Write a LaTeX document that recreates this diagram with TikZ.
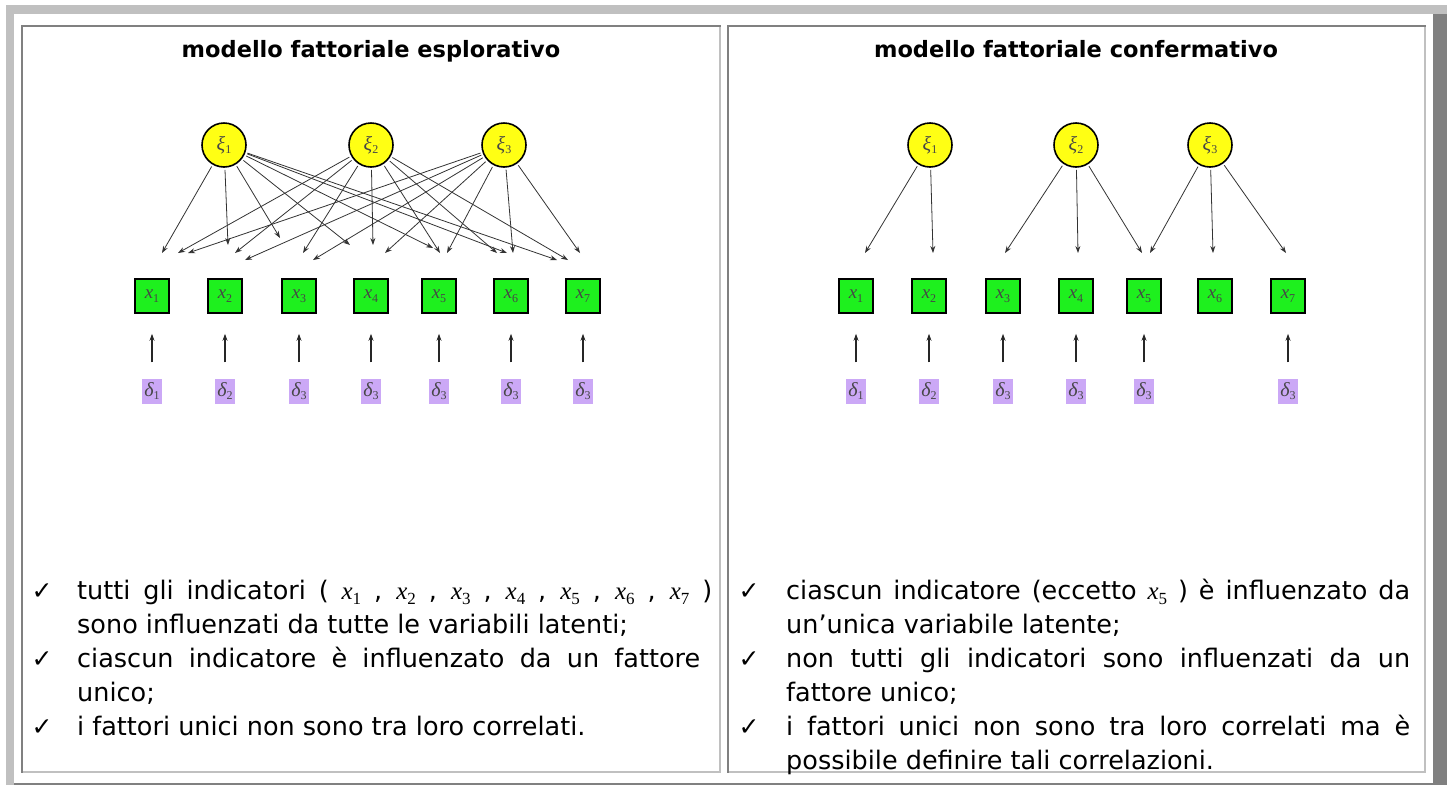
\documentclass[tikz,border=0pt]{standalone}
\usepackage{fontspec}
\setmainfont{DejaVu Sans}
\newfontfamily\tms{Liberation Serif}
\newfontfamily\chkfont{DejaVu Sans}
\usetikzlibrary{arrows.meta}
\definecolor{lgray}{RGB}{192,192,192}
\definecolor{dgray}{RGB}{128,128,128}
\definecolor{yel}{RGB}{255,255,20}
\definecolor{grn}{RGB}{30,240,30}
\definecolor{lav}{RGB}{203,168,246}
\definecolor{lblc}{RGB}{70,70,70}
\newcommand\myvar[4]{{\tms\fontsize{#3}{#3}\selectfont\itshape #1}{\tms\fontsize{#4}{#4}\selectfont\raisebox{-0.3em}{#2}}}
\newcommand\xsb[1]{\myvar{x}{#1}{25}{17}}
\newcommand\bodyfont{\fontsize{25.5}{34}\selectfont}
\begin{document}
\begin{tikzpicture}[x=1pt,y=-1pt,
  lat/.style={circle,draw=black,line width=1.6pt,fill=yel,minimum size=44pt,inner sep=0pt,text=lblc},
  obs/.style={rectangle,draw=black,line width=1.6pt,fill=grn,minimum size=34pt,inner sep=0pt,text=lblc},
  err/.style={rectangle,fill=lav,minimum width=20pt,minimum height=25pt,inner sep=0pt,text=lblc},
  arr/.style={draw=black!80,line width=0.8pt,-{Stealth[length=7pt,width=5pt]},shorten <=2pt},
  earr/.style={draw=black!85,line width=1.1pt,-{Stealth[length=7pt,width=5pt]}},
  ttl/.style={font=\fontsize{22.5}{27}\selectfont\bfseries,anchor=base,inner sep=0pt},
  txt/.style={font=\bodyfont,anchor=base west,inner sep=0pt},
  chk/.style={font=\chkfont\fontsize{25}{28}\selectfont,anchor=base,inner sep=0pt}
]
\useasboundingbox (0,0) rectangle (1447,785);
% outer table frame
\fill[lgray] (6,5) rectangle (1447,14);
\fill[lgray] (6,14) rectangle (14,785);
\fill[dgray] (1433,14) rectangle (1447,785);
\fill[dgray] (14,783) rectangle (1433,785);
% left cell
\fill[dgray] (21,25) rectangle (721,27);
\fill[dgray] (21,25) rectangle (23,773);
\fill[lgray] (719,27) rectangle (721,773);
\fill[lgray] (23,771) rectangle (721,773);
% right cell
\fill[dgray] (727,25) rectangle (1426,27);
\fill[dgray] (727,25) rectangle (729,773);
\fill[lgray] (1424,27) rectangle (1426,773);
\fill[lgray] (729,771) rectangle (1426,773);

% titles
\node[ttl] (tl) at (371,57) {modello fattoriale esplorativo};
\node[ttl] (tr) at (1076,57) {modello fattoriale confermativo};

% ---------- left diagram ----------
\node[lat] (la1) at (224,145) {\myvar{ξ}{1}{20}{12}};
\node[lat] (la2) at (371,145) {\myvar{ξ}{2}{20}{12}};
\node[lat] (la3) at (504,145) {\myvar{ξ}{3}{20}{12}};
\foreach \i/\xx/\s in {1/152/1,2/225/2,3/299/3,4/371/3,5/439/3,6/511/3,7/583/3}{
  \node[obs] (lx\i) at (\xx,296) {\myvar{x}{\i}{19}{12}};
  \node[err] (ld\i) at (\xx,391) {\myvar{δ}{\s}{20}{12}};
  \draw[earr] ([yshift=16pt]ld\i.north) -- ([yshift=-20pt]lx\i.south);
}
\foreach \f/\t/\tx/\ty in {
  1/1/162/253, 1/2/228/245, 1/3/280/238, 1/4/350/245, 1/5/433/248, 1/6/507/253, 1/7/557/260,
  2/1/178/253, 2/2/235/253, 2/3/303/253, 2/4/373/245, 2/5/440/253, 2/6/497/253, 2/7/568/260,
  3/1/188/253, 3/2/245/260, 3/3/313/260, 3/4/385/253, 3/5/447/253, 3/6/513/253, 3/7/580/253}{
  \coordinate (lt\f\t) at (\tx,\ty);
  \draw[arr] (la\f) -- (lt\f\t);
}

% ---------- right diagram ----------
\node[lat] (ra1) at (930,145) {\myvar{ξ}{1}{20}{12}};
\node[lat] (ra2) at (1076,145) {\myvar{ξ}{2}{20}{12}};
\node[lat] (ra3) at (1210,145) {\myvar{ξ}{3}{20}{12}};
\foreach \i/\xx in {1/856,2/929,3/1003,4/1076,5/1144,6/1215,7/1288}{
  \node[obs] (rx\i) at (\xx,296) {\myvar{x}{\i}{19}{12}};
}
\foreach \i/\xx/\s in {1/856/1,2/929/2,3/1003/3,4/1076/3,5/1144/3,7/1288/3}{
  \node[err] (rd\i) at (\xx,391) {\myvar{δ}{\s}{20}{12}};
  \draw[earr] ([yshift=16pt]rd\i.north) -- ([yshift=-20pt]rx\i.south);
}
\foreach \f/\t/\tx/\ty in {
  1/1/865/253, 1/2/933/253,
  2/3/1005/253, 2/4/1078/253, 2/5/1142/253,
  3/5/1150/253, 3/6/1213/253, 3/7/1286/253}{
  \coordinate (rt\f\t) at (\tx,\ty);
  \draw[arr] (ra\f) -- (rt\f\t);
}

% ---------- left text ----------
\node[chk] (lc1) at (42,599) {✓};
\node[chk] (lc2) at (42,667) {✓};
\node[chk] (lc3) at (42,735) {✓};
\node[txt] (lt1) at (77,599) {\makebox[635pt][s]{tutti gli indicatori ( \xsb{1} , \xsb{2} , \xsb{3} , \xsb{4} , \xsb{5} , \xsb{6} , \xsb{7} )}};
\node[txt] (lt2) at (77,633) {sono influenzati da tutte le variabili latenti;};
\node[txt] (lt3) at (77,667) {\makebox[623pt][s]{ciascun indicatore è influenzato da un fattore}};
\node[txt] (lt4) at (77,701) {unico;};
\node[txt] (lt5) at (77,735) {i fattori unici non sono tra loro correlati.};

% ---------- right text ----------
\node[chk] (rc1) at (749,599) {✓};
\node[chk] (rc2) at (749,667) {✓};
\node[chk] (rc3) at (749,735) {✓};
\node[txt] (rt1) at (786,599) {\makebox[624pt][s]{ciascun indicatore (eccetto \xsb{5} ) è influenzato da}};
\node[txt] (rt2) at (786,633) {un’unica variabile latente;};
\node[txt] (rt3) at (786,667) {\makebox[624pt][s]{non tutti gli indicatori sono influenzati da un}};
\node[txt] (rt4) at (786,701) {fattore unico;};
\node[txt] (rt5) at (786,735) {\makebox[624pt][s]{i fattori unici non sono tra loro correlati ma è}};
\node[txt] (rt6) at (786,769) {possibile definire tali correlazioni.};
\end{tikzpicture}
\end{document}
